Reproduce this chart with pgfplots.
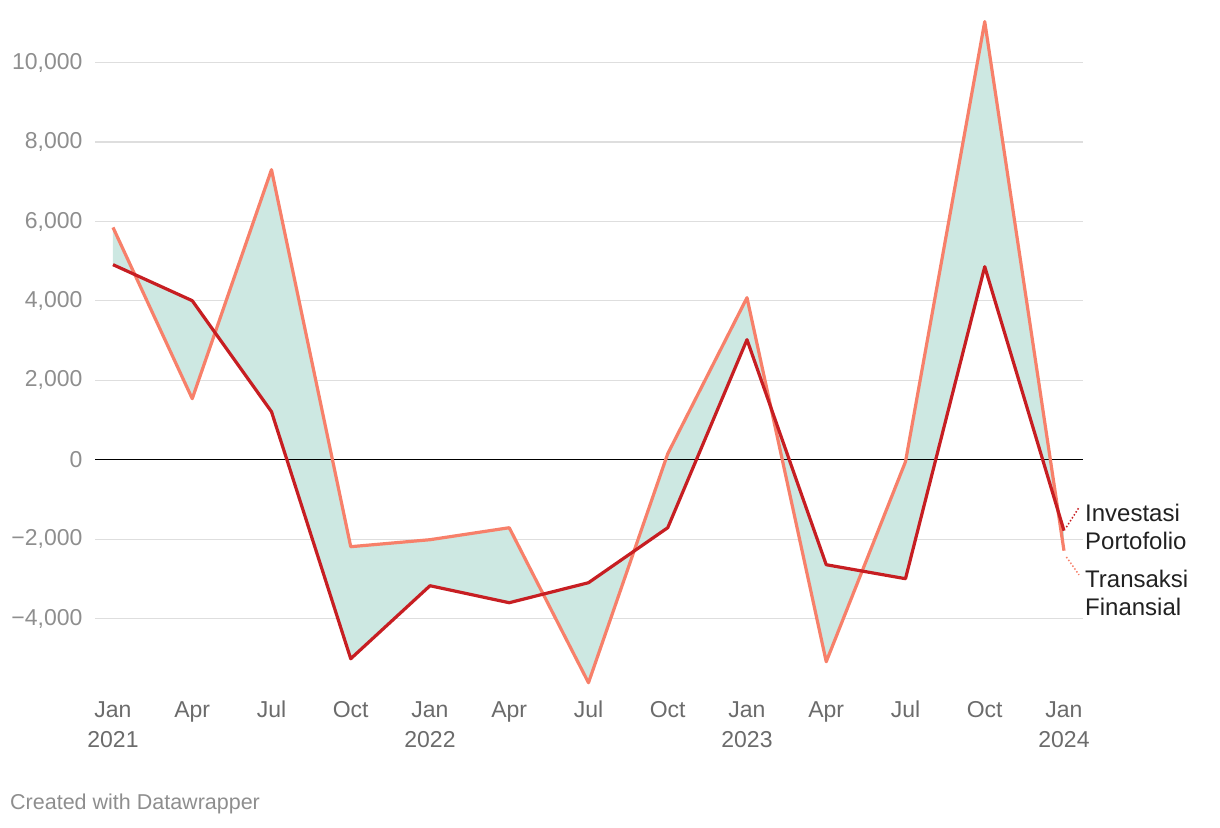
\documentclass[border=0pt]{standalone}
\usepackage{pgfplots}
\pgfplotsset{compat=1.18}
\usepgfplotslibrary{fillbetween}
\usepackage{fontspec}
\setmainfont{Liberation Sans}
\definecolor{salmon}{HTML}{F7806A}
\definecolor{darkred}{HTML}{C71E22}
\definecolor{fillc}{HTML}{CDE8E2}
\definecolor{gridc}{HTML}{DEDEDE}
\definecolor{ylab}{HTML}{8E8E8E}
\definecolor{xlab}{HTML}{6B6B6B}
\begin{document}
\begin{tikzpicture}
\begin{axis}[
  at={(95bp,138bp)}, anchor=south west,
  scale only axis, width=988bp, height=675bp,
  xmin=-0.227, xmax=12.24, ymin=-5800, ymax=11200,
  scaled y ticks=false,
  axis line style={draw=none},
  clip=false,
  major tick length=0pt,
  ytick={-4000,-2000,0,2000,4000,6000,8000,10000},
  yticklabels={{−4,000},{−2,000},{0},{2,000},{4,000},{6,000},{8,000},{10,000}},
  ymajorgrids, grid style={gridc, line width=1.2bp},
  yticklabel style={font=\fontsize{23bp}{27bp}\selectfont, text=ylab, xshift=-9bp},
  xtick={0,1,2,3,4,5,6,7,8,9,10,11,12},
  xticklabels={{\strut Jan\\2021},\strut Apr,\strut Jul,\strut Oct,{\strut Jan\\2022},\strut Apr,\strut Jul,\strut Oct,{\strut Jan\\2023},\strut Apr,\strut Jul,\strut Oct,{\strut Jan\\2024}},
  xticklabel style={font=\fontsize{23bp}{30bp}\selectfont, text=xlab, align=center, anchor=north, yshift=-3bp},
]
\addplot[name path=tf, draw=none, forget plot] coordinates {
(0,5850) (1,1537) (2,7305) (3,-2191) (4,-2015) (5,-1713) (6,-5617) (7,151) (8,4081) (9,-5088) (10,-50) (11,11033) (12,-2292)};
\addplot[name path=ip, draw=none, forget plot] coordinates {
(0,4912) (1,4005) (2,1209) (3,-5013) (4,-3174) (5,-3602) (6,-3098) (7,-1713) (8,3023) (9,-2645) (10,-2997) (11,4861) (12,-1788)};
\addplot[fill=fillc, draw=none] fill between[of=tf and ip];
\draw[black, line width=1.5bp] (axis cs:-0.227,0) -- (axis cs:12.24,0);
\addplot[salmon, line width=3.2bp, line join=round] coordinates {
(0,5850) (1,1537) (2,7305) (3,-2191) (4,-2015) (5,-1713) (6,-5617) (7,151) (8,4081) (9,-5088) (10,-50) (11,11033) (12,-2292)};
\addplot[darkred, line width=3.2bp, line join=round] coordinates {
(0,4912) (1,4005) (2,1209) (3,-5013) (4,-3174) (5,-3602) (6,-3098) (7,-1713) (8,3023) (9,-2645) (10,-2997) (11,4861) (12,-1788)};
\draw[darkred, dotted, line width=1.5bp] (axis cs:12.03,-1700) -- (axis cs:12.19,-1200);
\draw[salmon, dotted, line width=1.5bp] (axis cs:12.03,-2450) -- (axis cs:12.19,-2900);
\node[anchor=west, align=left, font=\fontsize{24bp}{28bp}\selectfont, text=black!87, inner sep=0pt] at (axis cs:12.265,-1700) {Investasi\\Portofolio};
\node[anchor=west, align=left, font=\fontsize{24bp}{28bp}\selectfont, text=black!87, inner sep=0pt] at (axis cs:12.265,-3350) {Transaksi\\Finansial};
\end{axis}
\node[anchor=west, font=\fontsize{21.5bp}{24bp}\selectfont, text=ylab, inner sep=0pt] at (10bp,24bp) {Created with Datawrapper};
\path (0bp,0bp) rectangle (1220bp,828bp);
\end{tikzpicture}
\end{document}
